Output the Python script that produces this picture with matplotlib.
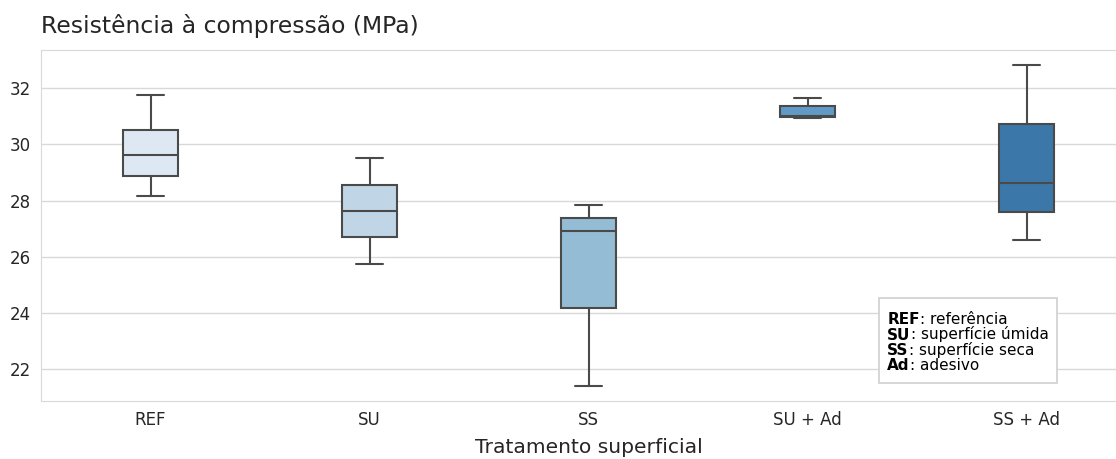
import matplotlib
matplotlib.use("Agg")
import matplotlib.pyplot as plt
from matplotlib.patches import Rectangle
import seaborn as sns
import numpy as np

categories = ["REF", "SU", "SS", "SU + Ad", "SS + Ad"]
whisker_low = [28.15, 25.76, 21.42, 30.92, 26.59]
q1 = [28.88, 26.70, 24.18, 30.98, 27.59]
median = [29.62, 27.63, 26.93, 31.00, 28.61]
q3 = [30.51, 28.55, 27.37, 31.35, 30.71]
whisker_high = [31.76, 29.50, 27.83, 31.66, 32.82]
box_colors = ["#dde8f3", "#c0d6e7", "#94bcd4", "#5f9bc6", "#3b77a8"]

title = "Resistência à compressão (MPa)"
xlabel = "Tratamento superficial"
note_keys = ["REF", "SU", "SS", "Ad"]
note_values = [": referência", ": superfície úmida", ": superfície seca", ": adesivo"]

sns.set_style("whitegrid")
plt.rcParams['font.family'] = ['DejaVu Sans']

line_color = "#4a4a4a"

fig = plt.figure(figsize=(11.16, 4.59), dpi=100)
ax = fig.add_axes([41 / 1116, 58 / 459, 1095 / 1116, 351 / 459])

stats = []
for i, c in enumerate(categories):
    stats.append(dict(label=c, whislo=whisker_low[i], q1=q1[i], med=median[i],
                      q3=q3[i], whishi=whisker_high[i], fliers=[]))

bp = ax.bxp(stats, positions=np.arange(len(categories)), widths=0.25,
            patch_artist=True, showfliers=False,
            boxprops=dict(edgecolor=line_color, linewidth=1.5),
            medianprops=dict(color=line_color, linewidth=1.5),
            whiskerprops=dict(color=line_color, linewidth=1.5),
            capprops=dict(color=line_color, linewidth=1.5))
for patch, col in zip(bp["boxes"], box_colors):
    patch.set_facecolor(col)
for cap in bp["caps"]:
    x = cap.get_xdata()
    m = x.mean()
    cap.set_xdata([m - 0.0625, m + 0.0625])

ax.set_xlim(-0.5, len(categories) - 0.5)
ax.set_ylim(20.88, 33.35)
ax.set_yticks([22, 24, 26, 28, 30, 32])
ax.grid(axis="x", visible=False)
ax.grid(axis="y", color="#d9d9d9", linewidth=1)
for s in ax.spines.values():
    s.set_color("#d9d9d9")
ax.spines["right"].set_visible(False)
ax.tick_params(axis="both", labelsize=12, colors="#262626", length=0, pad=7)
ax.set_xticks(np.arange(len(categories)))
ax.set_xticklabels(categories)
ax.set_xlabel(xlabel, fontsize=14.6, color="#262626", labelpad=7)
ax.set_title(title, loc="left", fontsize=16.9, color="#262626", pad=12)

# note box
x0 = (879 - 41) / 1095
x1 = (1057 - 41) / 1095
y0 = (401 - 383) / 351
y1 = (401 - 298) / 351
ax.add_patch(Rectangle((x0, y0), x1 - x0, y1 - y0, transform=ax.transAxes,
                       facecolor="white", edgecolor="#d0d0d0", linewidth=1.2, zorder=5))
tx = (887.3 - 41) / 1095
for i, (k, v) in enumerate(zip(note_keys, note_values)):
    by = (401 - (324.3 + i * 15.2)) / 351
    t = ax.text(tx, by, k, transform=ax.transAxes, fontsize=11, fontweight="bold",
                color="black", va="baseline", ha="left", zorder=6)
    ax.annotate(v, xy=(1, 0), xycoords=t, fontsize=11, color="black",
                va="bottom", ha="left", zorder=6)

fig.savefig("out.png", dpi=100)
